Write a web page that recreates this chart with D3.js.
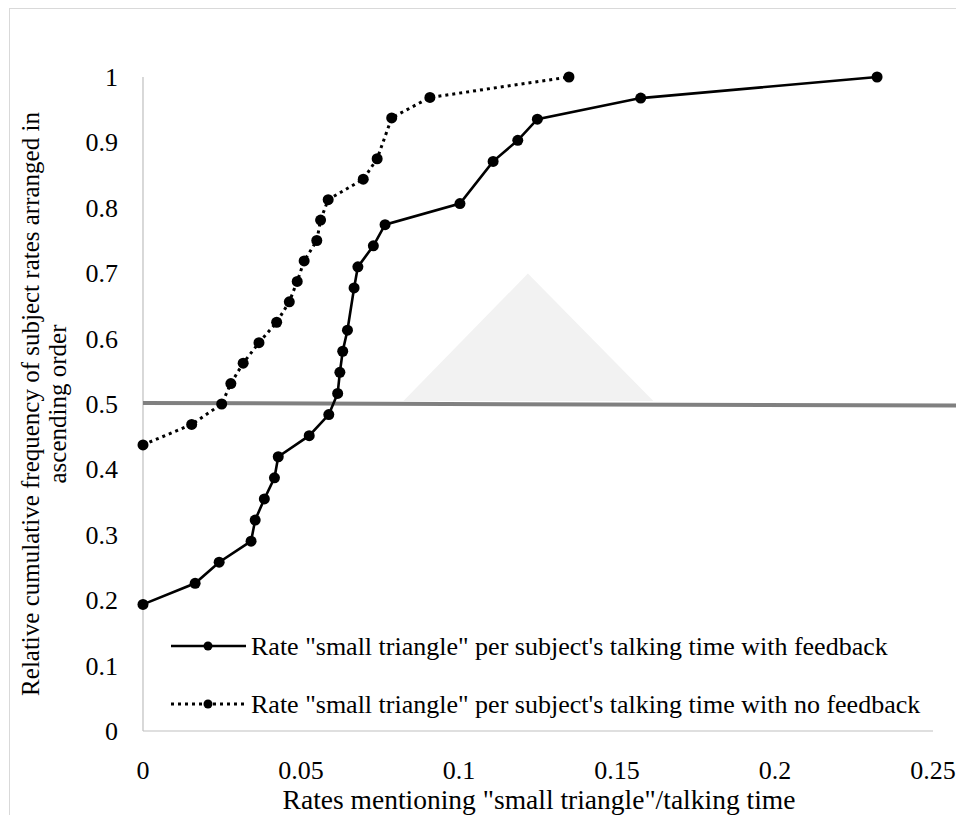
<!DOCTYPE html>
<html><head>
<script src="https://cdn.jsdelivr.net/npm/d3@7"></script>
</head><body style="margin:0">
<script>
// ---- data ----
const feedbackX = [0,0.0165,0.0241,0.0342,0.0355,0.0384,0.0416,0.0428,0.0526,0.0588,0.0616,0.0623,0.0632,0.0647,0.0668,0.0680,0.0729,0.0766,0.1003,0.1108,0.1186,0.1248,0.1575,0.2323];
const feedbackRank = [6,7,8,9,10,11,12,13,14,15,16,17,18,19,21,22,23,24,25,27,28,29,30,31];
const feedbackN = 31;
const noFeedbackX = [0,0.0154,0.0249,0.0278,0.0317,0.0367,0.0423,0.0463,0.0488,0.0510,0.0550,0.0562,0.0586,0.0697,0.0741,0.0787,0.0908,0.1348];
const noFeedbackRank = [14,15,16,17,18,19,20,21,22,23,24,25,26,27,28,30,31,32];
const noFeedbackN = 32;
const xTicks = [0,0.05,0.1,0.15,0.2,0.25];
const yTicks = [0,0.1,0.2,0.3,0.4,0.5,0.6,0.7,0.8,0.9,1];
const seriesNames = ["Rate \"small triangle\" per subject's talking time with feedback","Rate \"small triangle\" per subject's talking time with no feedback"];
const xTitle = "Rates mentioning \"small triangle\"/talking time";
const yTitleLines = ["Relative cumulative frequency of subject rates arranged in","ascending order"];
// annotation shapes seen on the image (data units)
const refLine = [[0,0.5015],[0.2576,0.4977]];
const triangle = [[0.0824,0.5045],[0.1218,0.6995],[0.1615,0.5045]];

const W=956,H=815;
const svg=d3.select("body").append("svg").attr("width",W).attr("height",H);
const x=d3.scaleLinear().domain([0,0.25]).range([143,933]);
const y=d3.scaleLinear().domain([0,1]).range([731,77]);
const FS=26;
function txt(sel){return sel.style("font-family",`"Liberation Serif"`).attr("fill","#000");}

// outer border
svg.append("rect").attr("x",9.5).attr("y",8.5).attr("width",W+20).attr("height",H+20).attr("fill","none").attr("stroke","#d9d9d9").attr("stroke-width",1);

// axes lines
svg.append("line").attr("x1",x(0)).attr("x2",x(0.25)).attr("y1",y(0)).attr("y2",y(0)).attr("stroke","#bfbfbf").attr("stroke-width",1.2);
svg.append("line").attr("x1",x(0)).attr("x2",x(0)).attr("y1",y(0)).attr("y2",y(1)).attr("stroke","#bfbfbf").attr("stroke-width",1.2);

// triangle + ref line
svg.append("path").attr("d",d3.line().x(d=>x(d[0])).y(d=>y(d[1]))(triangle)+"Z").attr("fill","#f2f2f2");
svg.append("path").attr("d",d3.line().x(d=>x(d[0])).y(d=>y(d[1]))(refLine)).attr("stroke","#808080").attr("stroke-width",4).attr("fill","none");

// tick labels
svg.append("g").selectAll("text").data(xTicks).join("text")
 .attr("x",d=>x(d)).attr("y",779).attr("text-anchor","middle").attr("font-size",FS).call(txt).text(d=>d);
svg.append("g").selectAll("text").data(yTicks).join("text")
 .attr("x",118).attr("y",d=>y(d)+9).attr("text-anchor","end").attr("font-size",FS).call(txt).text(d=>d);

// titles
svg.append("text").attr("x",539).attr("y",809).attr("text-anchor","middle").attr("font-size",27.5).call(txt).text(xTitle);
const yt=svg.append("text").attr("transform","translate(39,404) rotate(-90)").attr("text-anchor","middle").attr("font-size",25).call(txt);
yTitleLines.forEach((t,i)=>yt.append("tspan").attr("x",0).attr("dy",i?27:0).text(t));

// series
const fb=feedbackX.map((v,i)=>[v,feedbackRank[i]/feedbackN]);
const nfb=noFeedbackX.map((v,i)=>[v,noFeedbackRank[i]/noFeedbackN]);
const line=d3.line().x(d=>x(d[0])).y(d=>y(d[1]));
svg.append("path").attr("d",line(nfb)).attr("fill","none").attr("stroke","#000").attr("stroke-width",3).attr("stroke-dasharray","3,4");
svg.append("path").attr("d",line(fb)).attr("fill","none").attr("stroke","#000").attr("stroke-width",2.6);
svg.append("g").selectAll("circle").data(nfb).join("circle").attr("cx",d=>x(d[0])).attr("cy",d=>y(d[1])).attr("r",5.5).attr("fill","#000");
svg.append("g").selectAll("circle").data(fb).join("circle").attr("cx",d=>x(d[0])).attr("cy",d=>y(d[1])).attr("r",5.5).attr("fill","#000");

// legend
const leg=[{y:646,dash:null},{y:704,dash:"3,4"}];
leg.forEach((l,i)=>{
  const g=svg.append("g");
  g.append("line").attr("x1",171).attr("x2",246).attr("y1",l.y).attr("y2",l.y).attr("stroke","#000").attr("stroke-width",i?3:2.6).attr("stroke-dasharray",l.dash);
  g.append("circle").attr("cx",208).attr("cy",l.y).attr("r",4.5).attr("fill","#000");
  g.append("text").attr("x",251).attr("y",l.y+9).attr("font-size",FS).call(txt).text(seriesNames[i]);
});
</script>
</body></html>
